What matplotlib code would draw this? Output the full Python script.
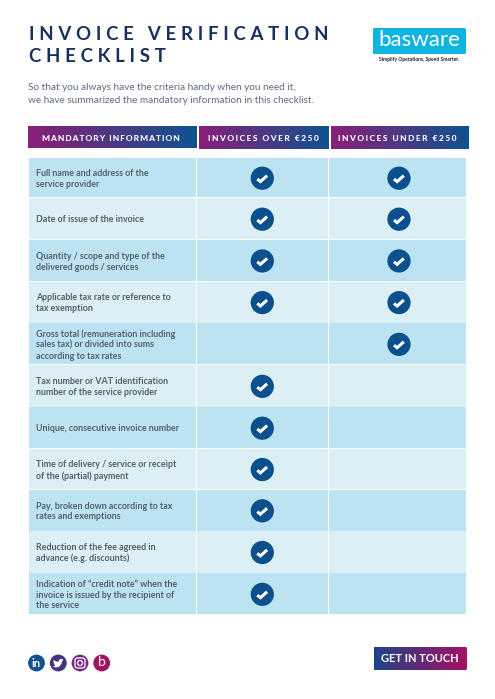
import numpy as np
import matplotlib
matplotlib.use("Agg")
import matplotlib.pyplot as plt
from matplotlib.colors import LinearSegmentedColormap
from matplotlib.patches import Circle, FancyBboxPatch, Rectangle, Polygon

title_lines = ["INVOICE VERIFICATION", "CHECKLIST"]
intro_lines = ["So that you always have the criteria handy when you need it,",
               "we have summarized the mandatory information in this checklist."]
headers = ["MANDATORY INFORMATION", "INVOICES OVER €250", "INVOICES UNDER €250"]
criteria = [
    "Full name and address of the\nservice provider",
    "Date of issue of the invoice",
    "Quantity / scope and type of the\ndelivered goods / services",
    "Applicable tax rate or reference to\ntax exemption",
    "Gross total (remuneration including\nsales tax) or divided into sums\naccording to tax rates",
    "Tax number or VAT identification\nnumber of the service provider",
    "Unique, consecutive invoice number",
    "Time of delivery / service or receipt\nof the (partial) payment",
    "Pay, broken down according to tax\nrates and exemptions",
    "Reduction of the fee agreed in\nadvance (e.g. discounts)",
    "Indication of “credit note” when the\ninvoice is issued by the recipient of\nthe service",
]
over_250 = [1, 1, 1, 1, 0, 1, 1, 1, 1, 1, 1]
under_250 = [1, 1, 1, 1, 1, 0, 0, 0, 0, 0, 0]
button_label = "GET IN TOUCH"
logo_label = "basware"
logo_tagline = "Simplify Operations, Spend Smarter."

NAVY = "#17305e"; BLUE = "#0b4f8c"; PURPLE = "#8a1f78"; MAGENTA = "#a80f62"
ROW_A = "#bbe3f2"; ROW_B = "#dbeff5"; GREY = "#55606e"
FONT = ["Lato", "DejaVu Sans"]

fig = plt.figure(figsize=(4.95, 6.99), dpi=100, facecolor="white")
ax = fig.add_axes([0, 0, 1, 1])
ax.set_xlim(0, 495); ax.set_ylim(699, 0); ax.axis("off")

def track(s, sep):
    return sep.join(s)

def gradient(x0, x1, y0, y1, c0, c1, clip=None):
    cmap = LinearSegmentedColormap.from_list("g", [c0, c1])
    im = ax.imshow(np.linspace(0, 1, 200)[None, :], extent=(x0, x1, y1, y0),
                   cmap=cmap, aspect="auto", zorder=2)
    if clip is not None:
        im.set_clip_path(clip)
    return im

# title
for line, y in zip(title_lines, [34.5, 56.5]):
    ax.text(29, y, track(line, "\u2009\u2009"), family=FONT, weight="bold",
            fontsize=13.4, color=NAVY, va="center", ha="left")

for line, y in zip(intro_lines, [88, 100.5]):
    ax.text(28, y, line, family=FONT, fontsize=7.2, color="#5f6b82", va="center", ha="left")

# logo
logo = FancyBboxPatch((373, 28), 93, 26, boxstyle="round,pad=0,rounding_size=1.5",
                      fc="#0fb4e0", ec="none", zorder=2)
ax.add_patch(logo)
ax.text(419.5, 40, logo_label, family=FONT, fontsize=16, color="white",
        ha="center", va="center", zorder=3)
ax.text(419.5, 59, logo_tagline, family=FONT, weight="bold", fontsize=3.6,
        color="#222222", ha="center", va="center")

# headers
col_edges = [(28, 197, 127, 148.5), (199, 329, 127, 149.5), (330.5, 468, 127, 149.5)]
head_x = [111, 263.5, 397.5]
head_sep = ["\u200a\u200a", "\u200a\u200a\u200a", "\u200a\u200a\u200a"]
for (x0, x1, y0, y1), hx, label, sep in zip(col_edges, head_x, headers, head_sep):
    gradient(x0, x1, y0, y1, PURPLE, "#0f5290")
    ax.text(hx, (y0 + y1) / 2 + 0.5, track(label, sep), family=FONT, weight="black",
            fontsize=6.0, color="white", ha="center", va="center", zorder=3)

# rows
row_edges = [158, 198, 240, 281.5, 323.3, 365, 407.3, 448.7, 490, 531.3, 573.3, 615]
cols = [(29, 196.2), (196.9, 328.2), (328.9, 466)]
col_centres = [262.3, 399]
for i, text in enumerate(criteria):
    y0, y1 = row_edges[i], row_edges[i + 1]
    colour = ROW_A if i % 2 == 0 else ROW_B
    for x0, x1 in cols:
        ax.add_patch(Rectangle((x0, y0), x1 - x0, y1 - y0 - 0.6, fc=colour, ec="none", zorder=1))
    ax.text(36, (y0 + y1) / 2 + 0.9, text, family=FONT, weight="bold", fontsize=6.4,
            color=GREY, ha="left", va="center", linespacing=1.27, zorder=3)
    for cx, flag in zip(col_centres, (over_250[i], under_250[i])):
        if flag:
            cy = (y0 + y1) / 2 + 0.2
            ax.add_patch(Circle((cx, cy), 11.6, fc=BLUE, ec="none", zorder=3))
            ax.plot([cx - 5, cx - 1.9, cx + 4.8], [cy + 0.8, cy + 3.4, cy - 2.6], color="white",
                    lw=2.2, solid_capstyle="butt", solid_joinstyle="miter", zorder=4)

# social icons
icon_x = [36.5, 58.3, 80, 101.7]
icon_c = ["#0f5290", "#44317f", "#7a2a80", "#a3145f"]
for x, c in zip(icon_x, icon_c):
    ax.add_patch(Circle((x, 663), 8.4, fc=c, ec="none", zorder=3))
ax.text(icon_x[0], 663.5, "in", family=FONT, weight="bold", fontsize=8, color="white",
        ha="center", va="center", zorder=4)
bx = icon_x[1]
ax.add_patch(Polygon([(bx - 5, 660), (bx - 2, 661.5), (bx + 0.5, 661.5), (bx + 1.5, 659), (bx + 3.5, 659),
                      (bx + 5, 659.5), (bx + 3.8, 661.5), (bx + 3, 664), (bx + 0.5, 667), (bx - 2.5, 667.5),
                      (bx - 5.5, 666.5), (bx - 3, 665.8), (bx - 4.5, 663.5), (bx - 5, 660)],
                     fc="white", ec="none", zorder=4))
ax.add_patch(FancyBboxPatch((icon_x[2] - 5, 658), 10, 10, boxstyle="round,pad=0,rounding_size=2.4",
                            fc="none", ec="white", lw=0.9, zorder=4))
ax.add_patch(Circle((icon_x[2], 663), 2.5, fc="none", ec="white", lw=0.9, zorder=4))
ax.text(icon_x[3], 662.5, "b", family=FONT, fontsize=10, color="white",
        ha="center", va="center", zorder=4)

# button
clip = FancyBboxPatch((373.5, 647), 93.5, 23, boxstyle="round,pad=0,rounding_size=1.5",
                      fc="none", ec="none", transform=ax.transData)
ax.add_patch(clip)
gradient(373.5, 467, 647, 670, "#1d4489", MAGENTA, clip=clip)
ax.text(420, 658.8, button_label, family=FONT, weight="bold", fontsize=8.0, color="white",
        ha="center", va="center", zorder=3)

ax.set_xlim(0, 495); ax.set_ylim(699, 0)
fig.savefig("out.png", dpi=100)
